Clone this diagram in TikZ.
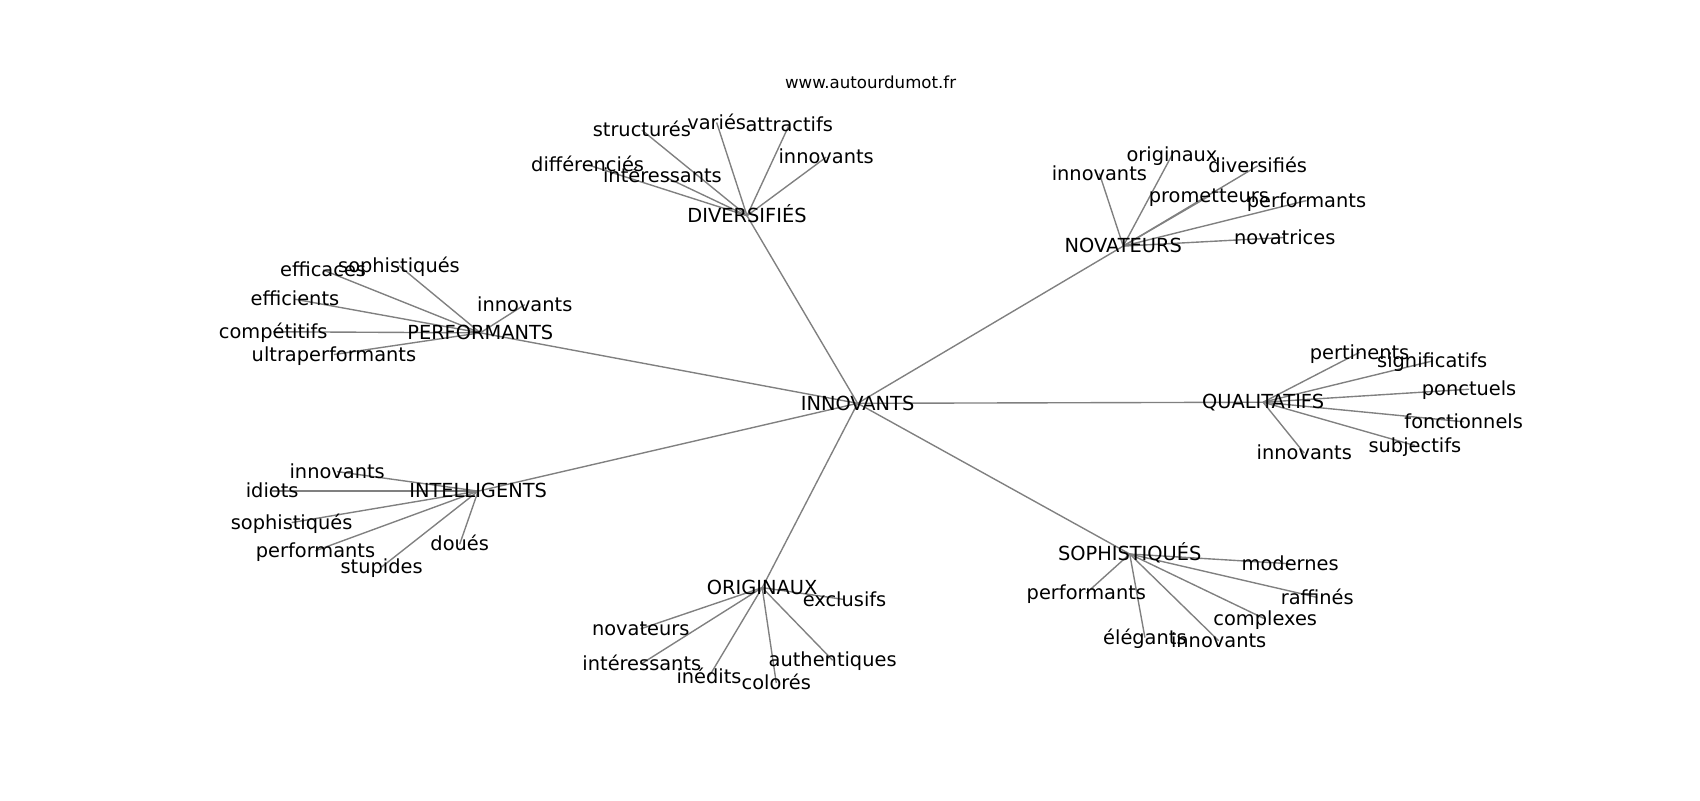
\documentclass[tikz,border=0pt]{standalone}
\usepackage{fontspec}
\setmainfont{DejaVu Sans}
\begin{document}
\begin{tikzpicture}[x=0.01084in,y=-0.01084in,
    edge/.style={draw=gray,line width=1pt},
    lbl/.style={font=\fontsize{14}{16}\selectfont,inner sep=0pt,text height=13pt,text depth=3.3pt}]
  \useasboundingbox (0,0) rectangle (1568,738);
  % hubs round the centre word
  \def\hubs{inn/791/372/INNOVANTS, div/689/199/DIVERSIFIÉS, nov/1036/227/NOVATEURS,
    perf/443/307/PERFORMANTS, qual/1165/371/QUALITATIFS, intel/441/453/INTELLIGENTS,
    orig/703/542/ORIGINAUX, soph/1042/511/SOPHISTIQUÉS}
  % leaves: hub/name/x/y/text
  \def\leaves{%
    div/d1/592/120/structurés, div/d2/661/113/variés, div/d3/728/115/attractifs,
    div/d4/762/145/innovants, div/d5/542/152/différenciés, div/d6/611/162/intéressants,
    nov/n1/1014/160/innovants, nov/n2/1081/143/originaux, nov/n3/1160/153/diversifiés,
    nov/n4/1115/181/prometteurs, nov/n5/1205/185/performants, nov/n6/1185/219/novatrices,
    perf/p1/298/249/efficaces, perf/p2/368/245/sophistiqués, perf/p3/272/276/efficients,
    perf/p4/484/281/innovants, perf/p5/252/306/compétitifs, perf/p6/308/327/ultraperformants,
    qual/q1/1254/325/pertinents, qual/q2/1321/333/significatifs, qual/q3/1355/359/ponctuels,
    qual/q4/1350/389/fonctionnels, qual/q5/1305/411/subjectifs, qual/q6/1203/418/innovants,
    intel/i1/311/435/innovants, intel/i2/251/453/idiots, intel/i3/269/482/sophistiqués,
    intel/i4/291/508/performants, intel/i5/352/523/stupides, intel/i6/424/502/doués,
    orig/o1/779/553/exclusifs, orig/o2/591/580/novateurs, orig/o3/592/612/intéressants,
    orig/o4/654/624/inédits, orig/o5/716/630/colorés, orig/o6/768/609/authentiques,
    soph/s1/1190/520/modernes, soph/s2/1002/547/performants, soph/s3/1215/551/raffinés,
    soph/s4/1167/571/complexes, soph/s5/1056/588/élégants, soph/s6/1124/591/innovants}
  \foreach \n/\x/\y/\t in \hubs
    \coordinate (\n) at (\x,\y);
  \foreach \n in {div,nov,perf,qual,intel,orig,soph}
    \draw[edge] (inn) -- (\n);
  \foreach \h/\n/\x/\y/\t in \leaves{%
    \coordinate (\n) at (\x,\y);
    \draw[edge] (\h) -- (\n);
  }
  % labels over the edges
  \foreach \n/\x/\y/\t in \hubs
    \node[lbl] (\n-l) at (\n) {\t};
  \foreach \h/\n/\x/\y/\t in \leaves
    \node[lbl] (\n-l) at (\n) {\t};
  \node[font=\fontsize{12}{14}\selectfont,inner sep=0pt] (title) at (803,76) {www.autourdumot.fr};
\end{tikzpicture}
\end{document}
